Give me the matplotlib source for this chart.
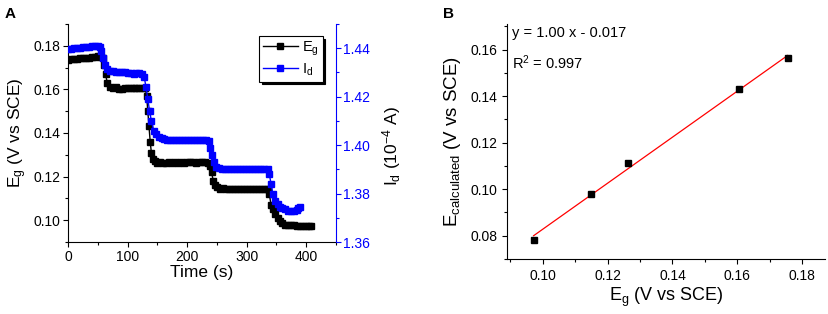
import matplotlib
matplotlib.use("Agg")
import matplotlib.pyplot as plt
import numpy as np
from matplotlib.ticker import MultipleLocator, FormatStrFormatter

plt.rcParams['font.family'] = ['Liberation Sans', 'DejaVu Sans']
plt.rcParams['mathtext.fontset'] = 'custom'
plt.rcParams['mathtext.rm'] = 'Liberation Sans'
plt.rcParams['mathtext.it'] = 'Liberation Sans:italic'
plt.rcParams['mathtext.bf'] = 'Liberation Sans:bold'

# ---------------- Panel A data ----------------
eg_time = [0, 5, 10, 15, 20, 25, 30, 35, 40, 45, 50, 55, 58, 61, 63, 66, 70, 75, 80, 85,
           90, 95, 100, 105, 110, 115, 120, 125, 130, 132, 134, 136, 138, 140, 143, 146,
           150, 155, 160, 165, 170, 175, 180, 185, 190, 195, 200, 205, 210, 215, 220, 225,
           230, 235, 238, 241, 244, 247, 250, 255, 260, 265, 270, 275, 280, 285, 290, 295,
           300, 305, 310, 315, 320, 325, 330, 335, 338, 341, 344, 348, 352, 356, 360, 365,
           370, 375, 380, 385, 390, 395, 400, 405, 408]
eg_vals = [0.1735, 0.1738, 0.1738, 0.1740, 0.1742, 0.1742, 0.1745, 0.1745, 0.1748, 0.1748,
           0.1752, 0.1750, 0.1745, 0.1710, 0.1670, 0.1630, 0.1612, 0.1605, 0.1612, 0.1600,
           0.1603, 0.1605, 0.1607, 0.1605, 0.1607, 0.1607, 0.1608, 0.1608, 0.1605, 0.1570,
           0.1500, 0.1430, 0.1360, 0.1310, 0.1280, 0.1270, 0.1262, 0.1268, 0.1262, 0.1262,
           0.1265, 0.1262, 0.1265, 0.1262, 0.1265, 0.1262, 0.1265, 0.1268, 0.1265, 0.1262,
           0.1268, 0.1265, 0.1265, 0.1262, 0.1250, 0.1220, 0.1180, 0.1162, 0.1152, 0.1145,
           0.1148, 0.1143, 0.1143, 0.1143, 0.1143, 0.1145, 0.1143, 0.1143, 0.1143, 0.1143,
           0.1145, 0.1143, 0.1145, 0.1145, 0.1145, 0.1143, 0.1120, 0.1070, 0.1050, 0.1030,
           0.1010, 0.0995, 0.0985, 0.0980, 0.0977, 0.0977, 0.0977, 0.0975, 0.0975, 0.0973,
           0.0973, 0.0975, 0.0972]

id_time = [0, 5, 10, 15, 20, 25, 30, 35, 40, 45, 50, 53, 56, 59, 62, 65, 70, 75, 80, 85,
           90, 95, 100, 105, 110, 115, 120, 125, 128, 131, 134, 137, 140, 144, 148, 152,
           157, 162, 167, 172, 177, 182, 187, 192, 197, 202, 207, 212, 217, 222, 227, 232,
           236, 239, 242, 245, 249, 254, 259, 264, 269, 274, 279, 284, 289, 294, 299, 304,
           309, 314, 319, 324, 329, 335, 338, 341, 344, 348, 352, 356, 360, 365, 370, 375,
           380, 384, 387, 389]
id_vals = [1.4395, 1.4398, 1.4400, 1.4402, 1.4402, 1.4405, 1.4405, 1.4405, 1.4408, 1.4408,
           1.4408, 1.4405, 1.4390, 1.4360, 1.4330, 1.4315, 1.4307, 1.4305, 1.4302, 1.4302,
           1.4300, 1.4300, 1.4298, 1.4298, 1.4295, 1.4297, 1.4297, 1.4295, 1.4280, 1.4240,
           1.4190, 1.4140, 1.4100, 1.4060, 1.4045, 1.4035, 1.4030, 1.4025, 1.4023, 1.4022,
           1.4022, 1.4022, 1.4022, 1.4022, 1.4022, 1.4022, 1.4022, 1.4022, 1.4022, 1.4022,
           1.4022, 1.4020, 1.4015, 1.3990, 1.3960, 1.3930, 1.3910, 1.3905, 1.3902, 1.3902,
           1.3902, 1.3902, 1.3902, 1.3902, 1.3902, 1.3902, 1.3902, 1.3902, 1.3902, 1.3902,
           1.3902, 1.3902, 1.3902, 1.3900, 1.3880, 1.3840, 1.3800, 1.3770, 1.3755, 1.3745,
           1.3740, 1.3735, 1.3730, 1.3728, 1.3730, 1.3733, 1.3740, 1.3745]

# ---------------- Panel B data ----------------
eg_b = [0.0972, 0.1148, 0.1262, 0.1605, 0.1755]
ecalc_b = [0.0780, 0.0980, 0.1111, 0.1430, 0.1562]
fit_text = "y = 1.00 x - 0.017"
r2_text = r"R$^2$ = 0.997"

BLUE = (0, 0, 1)
W, H = 829, 314
fig = plt.figure(figsize=(W / 100, H / 100), dpi=100)

# ---------- Panel A ----------
axA = fig.add_axes([68 / W, 1 - 242 / H, (336 - 68) / W, (242 - 24) / H])
axA2 = axA.twinx()

lE, = axA.plot(eg_time, eg_vals, color='black', lw=1.0, marker='s', ms=3.8,
               mec='black', mfc='black', label=r'E$_{\rm g}$')
lI, = axA2.plot(id_time, id_vals, color=BLUE, lw=1.0, marker='s', ms=3.8,
                mec=BLUE, mfc=BLUE, label=r'I$_{\rm d}$')

axA.set_xlim(0, 450)
axA.set_ylim(0.09, 0.19)
axA2.set_ylim(1.36, 1.45)
axA.xaxis.set_major_locator(MultipleLocator(100))
axA.xaxis.set_minor_locator(MultipleLocator(50))
axA.yaxis.set_major_locator(MultipleLocator(0.02))
axA.yaxis.set_minor_locator(MultipleLocator(0.01))
axA.yaxis.set_major_formatter(FormatStrFormatter('%.2f'))
axA2.yaxis.set_major_locator(MultipleLocator(0.02))
axA2.yaxis.set_minor_locator(MultipleLocator(0.01))
axA2.yaxis.set_major_formatter(FormatStrFormatter('%.2f'))

for ax in (axA, axA2):
    ax.spines['top'].set_visible(False)
axA.spines['right'].set_visible(False)
axA2.spines['left'].set_visible(False)
axA2.spines['bottom'].set_visible(False)
axA2.spines['right'].set_color(BLUE)

axA.tick_params(axis='both', which='major', direction='out', length=3.5, width=0.8,
                labelsize=10, pad=2)
axA.tick_params(axis='both', which='minor', direction='out', length=2, width=0.8)
axA2.tick_params(axis='y', which='major', direction='out', length=3.5, width=0.8,
                 colors=BLUE, labelsize=10, pad=1.5)
axA2.tick_params(axis='y', which='minor', direction='out', length=2, width=0.8, colors=BLUE)

axA.set_xlabel('Time (s)', fontsize=12.5, labelpad=1)
axA.set_ylabel(r'E$_{\rm g}$ (V vs SCE)', fontsize=12.5, labelpad=3)
axA2.set_ylabel(r'I$_{\rm d}$ (10$^{-4}$ A)', fontsize=12.5, color='black')
axA2.yaxis.set_label_coords(1.165, 0.44)

legA = axA2.legend([lE, lI], [r'E$_{\rm g}$', r'I$_{\rm d}$'], loc='upper right',
                   bbox_to_anchor=(0.95, 0.945), fontsize=10.5, numpoints=1,
                   frameon=True, fancybox=False, edgecolor='black', framealpha=1,
                   shadow={'color': 'black', 'alpha': 1}, handlelength=2.4,
                   borderpad=0.25, labelspacing=0.25, handletextpad=0.3, borderaxespad=0)
legA.get_frame().set_linewidth(0.8)

fig.text(5 / W, 1 - 18 / H, 'A', fontsize=11, fontweight='bold')

# ---------- Panel B ----------
axB = fig.add_axes([507 / W, 1 - 259 / H, (825 - 507) / W, (259 - 24) / H])
coef = np.polyfit(eg_b, ecalc_b, 1)
fx = np.array([min(eg_b), max(eg_b)])
axB.plot(fx, np.polyval(coef, fx), color='red', lw=0.9)
axB.plot(eg_b, ecalc_b, linestyle='none', marker='s', ms=4, color='black')

axB.set_xlim(0.089, 0.187)
axB.set_ylim(0.07, 0.171)
axB.xaxis.set_major_locator(MultipleLocator(0.02))
axB.xaxis.set_minor_locator(MultipleLocator(0.01))
axB.yaxis.set_major_locator(MultipleLocator(0.02))
axB.yaxis.set_minor_locator(MultipleLocator(0.01))
axB.xaxis.set_major_formatter(FormatStrFormatter('%.2f'))
axB.yaxis.set_major_formatter(FormatStrFormatter('%.2f'))
axB.spines['top'].set_visible(False)
axB.spines['right'].set_visible(False)
axB.tick_params(axis='both', which='major', direction='out', length=3.5, width=0.8,
                labelsize=10, pad=3.5)
axB.tick_params(axis='both', which='minor', direction='out', length=2, width=0.8)
axB.set_xlabel(r'E$_{\rm g}$ (V vs SCE)', fontsize=13, labelpad=2)
axB.set_ylabel(r'E$_{\rm calculated}$ (V vs SCE)', fontsize=13.5, labelpad=5)

axB.text(0.015, 0.99, fit_text, transform=axB.transAxes, fontsize=10.5, va='top', ha='left')
axB.text(0.015, 0.875, r2_text, transform=axB.transAxes, fontsize=10.5, va='top', ha='left')

fig.text(443 / W, 1 - 18 / H, 'B', fontsize=11, fontweight='bold')

fig.savefig('out.png', dpi=100)
